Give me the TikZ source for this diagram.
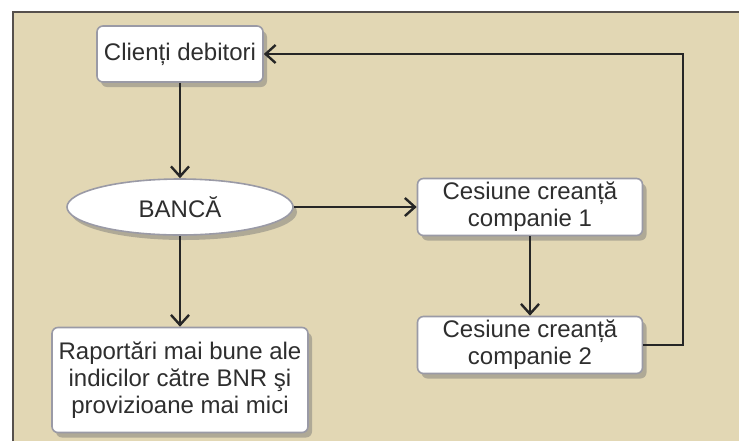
\documentclass[tikz,border=0pt]{standalone}
\usepackage{fontspec}
\setmainfont{Liberation Sans}
\usetikzlibrary{shapes.geometric,shadows,arrows.meta}
\definecolor{framefill}{HTML}{E2D7B4}
\definecolor{framedraw}{HTML}{56504C}
\definecolor{boxdraw}{HTML}{9A9AA6}
\definecolor{textgray}{HTML}{2E2E2E}
\tikzset{
  box/.style={draw=boxdraw, fill=white, line width=0.8pt, rounded corners=3pt,
    align=center, inner sep=0pt, text=textgray,
    drop shadow={shadow xshift=2pt, shadow yshift=-2.5pt, opacity=0.45, fill=black!55}},
  oval/.style={box, ellipse, rounded corners=0pt},
  link/.style={-{Straight Barb[length=5pt,width=9pt,line width=1.2pt]}, line width=1.3pt, draw=black!85}
}
\begin{document}
\begin{tikzpicture}[x=0.5pt,y=-0.5pt,font=\fontsize{12}{13.5}\selectfont]
  \useasboundingbox (0,0) rectangle (739,441);
  % frame
  \fill[framefill] (13,12) rectangle (739,441);
  \draw[framedraw, line width=0.9pt] (13,441) -- (13,12) -- (739,12);
  % nodes
  \node[box, minimum width=83pt, minimum height=28pt] (clienti) at (180,54) {Clienți debitori};
  \node[oval, minimum width=113pt, minimum height=28pt] (banca) at (180,207) {BANCĂ};
  \node[box, minimum width=112.5pt, minimum height=28.5pt] (ces1) at (530,207) {Cesiune creanță\\companie 1};
  \node[box, minimum width=112.5pt, minimum height=28.5pt] (ces2) at (530,345) {Cesiune creanță\\companie 2};
  \node[box, minimum width=128pt, minimum height=52.5pt] (rap) at (180,380)
    {Raportări mai bune ale\\indicilor către BNR şi\\provizioane mai mici};
  \coordinate (turn) at (683,54);
  % links
  \begin{scope}[link]
    \draw (clienti) to (banca);
    \draw (banca) to (ces1);
    \draw (ces1) to (ces2);
    \draw (banca) to (rap);
    \draw (ces2.east) -| (turn) -- (clienti.east);
  \end{scope}
\end{tikzpicture}
\end{document}
